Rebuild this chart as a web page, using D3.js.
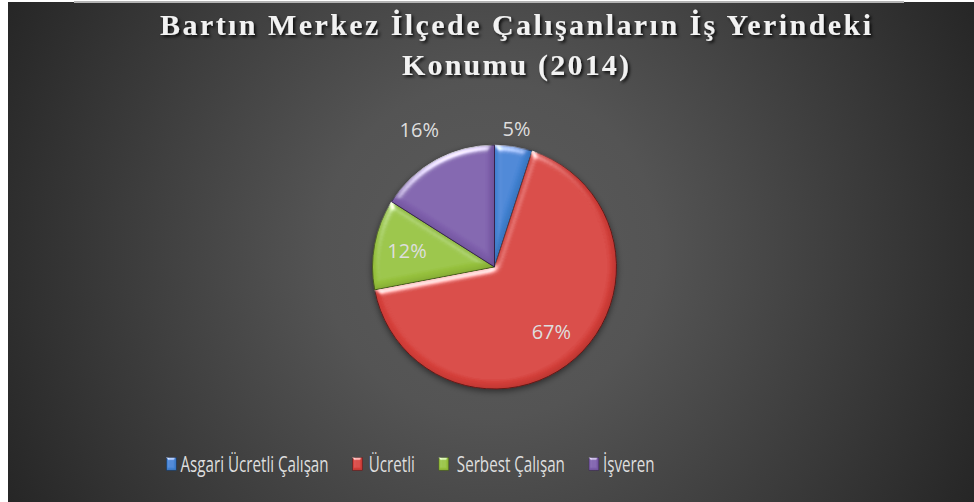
<!DOCTYPE html>
<html>
<head>
<meta charset="utf-8">
<script src="https://cdn.jsdelivr.net/npm/d3@7"></script>
<style>
  html, body { margin: 0; padding: 0; background: #fff; }
  svg { display: block; }
</style>
</head>
<body>
<div id="chart"></div>
<script>
// data
var categories = ["Asgari Ücretli Çalışan", "Ücretli", "Serbest Çalışan", "İşveren"];
var values = [5, 67, 12, 16];
var titleLines = ["Bartın Merkez İlçede Çalışanların İş Yerindeki", "Konumu (2014)"];

// look
var colors = ["#4283d4", "#d63f3b", "#97c23c", "#7e5eac"];
var edgeColors = ["#1f3f6e", "#6e1f1d", "#4f661e", "#3d2c57"];
// where excel put each label, as a fraction of the radius
var labelRadius = [1.15, 0.705, 0.73, 1.28];

var width = 974;
var height = 502;

var svg = d3.select("#chart")
    .append("svg")
    .attr("width", width)
    .attr("height", height);

var defs = svg.append("defs");

// background gradient
var bg = defs.append("radialGradient")
    .attr("id", "bg")
    .attr("gradientUnits", "userSpaceOnUse")
    .attr("cx", 490).attr("cy", 250).attr("r", 560);
bg.append("stop").attr("offset", "0").attr("stop-color", "#5b5b5b");
bg.append("stop").attr("offset", "0.3").attr("stop-color", "#545454");
bg.append("stop").attr("offset", "1").attr("stop-color", "#242424");

// bevel: highlight on lit edges, inner shadow on the others
function makeBevel(id, blur, scale, elev) {
    var f = defs.append("filter").attr("id", id)
        .attr("x", "-10%").attr("y", "-10%").attr("width", "120%").attr("height", "120%");
    f.append("feGaussianBlur").attr("in", "SourceAlpha").attr("stdDeviation", blur).attr("result", "blur");
    var s = f.append("feSpecularLighting")
        .attr("in", "blur").attr("surfaceScale", scale).attr("specularConstant", 1.0)
        .attr("specularExponent", 22).attr("lighting-color", "#ffffff").attr("result", "spec");
    s.append("feDistantLight").attr("azimuth", 250).attr("elevation", elev);
    f.append("feComposite").attr("in", "spec").attr("in2", "SourceAlpha")
        .attr("operator", "in").attr("result", "specIn");
    // inner shadow
    f.append("feOffset").attr("in", "blur").attr("dx", -blur * 0.6).attr("dy", -blur * 0.6).attr("result", "off");
    f.append("feComposite").attr("in", "SourceAlpha").attr("in2", "off")
        .attr("operator", "out").attr("result", "inner");
    f.append("feFlood").attr("flood-color", "#000").attr("flood-opacity", 0.35).attr("result", "dark");
    f.append("feComposite").attr("in", "dark").attr("in2", "inner").attr("operator", "in").attr("result", "shade");
    var m = f.append("feMerge");
    m.append("feMergeNode").attr("in", "SourceGraphic");
    m.append("feMergeNode").attr("in", "shade");
    f.append("feComposite").attr("in2", "specIn")
        .attr("operator", "arithmetic").attr("k1", 0).attr("k2", 1).attr("k3", 0.75).attr("k4", 0)
        .attr("result", "lit");
    f.append("feComposite").attr("in", "lit").attr("in2", "SourceAlpha").attr("operator", "in");
}
makeBevel("bevel", 3.5, 4, 28);
makeBevel("smallBevel", 1.2, 2, 30);

// text shadow for title
var tshadow = defs.append("filter").attr("id", "tshadow")
    .attr("x", "-5%").attr("y", "-30%").attr("width", "110%").attr("height", "160%");
tshadow.append("feDropShadow").attr("dx", 2).attr("dy", 2).attr("stdDeviation", 1.5)
    .attr("flood-color", "#000").attr("flood-opacity", 0.8);

// pie shadow
var pshadow = defs.append("filter").attr("id", "pshadow")
    .attr("x", "-20%").attr("y", "-20%").attr("width", "140%").attr("height", "140%");
pshadow.append("feDropShadow").attr("dx", 0).attr("dy", 2).attr("stdDeviation", 3)
    .attr("flood-color", "#000").attr("flood-opacity", 0.5);

// chart area (white strip on the left and top like the screenshot)
svg.append("rect")
    .attr("x", 8).attr("y", 2)
    .attr("width", width - 8).attr("height", height - 2)
    .attr("fill", "url(#bg)");

svg.append("rect")
    .attr("x", 74).attr("y", 1)
    .attr("width", 830).attr("height", 2)
    .attr("fill", "#b4b4b4");

// title: bold serif spread out to the reference width
var titleX = 515.5;
var titleW = [711, 227];
var titleBase = [35, 75];

var title = svg.append("g").attr("class", "title")
    .attr("filter", "url(#tshadow)");

title.selectAll("text")
  .data(titleLines)
  .enter().append("text")
    .attr("x", 0)
    .attr("y", 0)
    .attr("text-anchor", "middle")
    .attr("font-family", "Liberation Serif, DejaVu Serif, serif")
    .attr("font-weight", "bold")
    .attr("font-size", 30)
    .attr("fill", "#f2f2f2")
    .text(function(d) { return d; })
    .each(function(d, i) {
        var t = d3.select(this);
        var w0 = this.getComputedTextLength();
        var ls = (titleW[i] - w0) / (d.length - 1);
        t.attr("letter-spacing", ls)
         .attr("transform", `translate(${titleX + ls / 2}, ${titleBase[i]})`);
    });

// pie
var cx = 494.5, cy = 267, radius = 122;

var pie = d3.pie().sort(null).value(function(d) { return d; });
var arcs = pie(values);

var arc = d3.arc().innerRadius(0).outerRadius(radius);

var pieGroup = svg.append("g")
    .attr("transform", `translate(${cx}, ${cy})`)
    .attr("filter", "url(#pshadow)");

pieGroup.selectAll("path.slice")
    .data(arcs)
    .enter().append("path")
    .attr("class", "slice")
    .attr("d", arc)
    .attr("fill", function(d, i) { return colors[i]; })
    .attr("stroke", function(d, i) { return edgeColors[i]; })
    .attr("stroke-width", 1)
    .attr("filter", "url(#bevel)");

// labels
svg.append("g")
    .attr("transform", `translate(${cx}, ${cy})`)
  .selectAll("text.lbl")
    .data(arcs)
    .enter().append("text")
    .attr("class", "lbl")
    .attr("transform", function(d, i) {
        var r = radius * labelRadius[i];
        var c = d3.arc().innerRadius(r).outerRadius(r).centroid(d);
        return `translate(${c[0]}, ${c[1]})`;
    })
    .attr("text-anchor", "middle")
    .attr("dy", "0.36em")
    .attr("font-family", "Open Sans, Noto Sans, sans-serif")
    .attr("font-size", 20)
    .attr("fill", "#dedede")
    .text(function(d) { return d.data + "%"; });

// legend
var legend = svg.append("g").attr("class", "legend");
var legendY = 464;
var squeeze = 0.69;
var keyW = 10, keyH = 13;
var textGap = [4, 6, 8, 4];
var itemGap = 24;

var items = legend.selectAll("g.item")
    .data(categories)
    .enter().append("g")
    .attr("class", "item");

items.append("rect")
    .attr("width", keyW).attr("height", keyH)
    .attr("y", legendY - keyH / 2)
    .attr("fill", function(d, i) { return colors[i]; })
    .attr("stroke", function(d, i) { return edgeColors[i]; })
    .attr("stroke-width", 0.6)
    .attr("filter", "url(#smallBevel)");

items.append("text")
    .attr("dy", "0.36em")
    .attr("font-family", "Open Sans, Noto Sans, sans-serif")
    .attr("font-size", 22)
    .attr("fill", "#dedede")
    .text(function(d) { return d; });

// lay the legend out from the text widths (glyphs squeezed like the picture)
var x = 0;
var positions = [];
items.each(function(d, i) {
    var t = d3.select(this).select("text");
    var w = t.node().getComputedTextLength() * squeeze;
    positions.push(x);
    x += keyW + textGap[i] + w + (i < categories.length - 1 ? itemGap : 0);
});
var legendStart = 410.5 - x / 2;
items.each(function(d, i) {
    var g = d3.select(this);
    g.attr("transform", `translate(${legendStart + positions[i]}, 0)`);
    g.select("text")
        .attr("transform", `translate(${keyW + textGap[i]}, ${legendY}) scale(${squeeze}, 1)`);
});
</script>
</body>
</html>
